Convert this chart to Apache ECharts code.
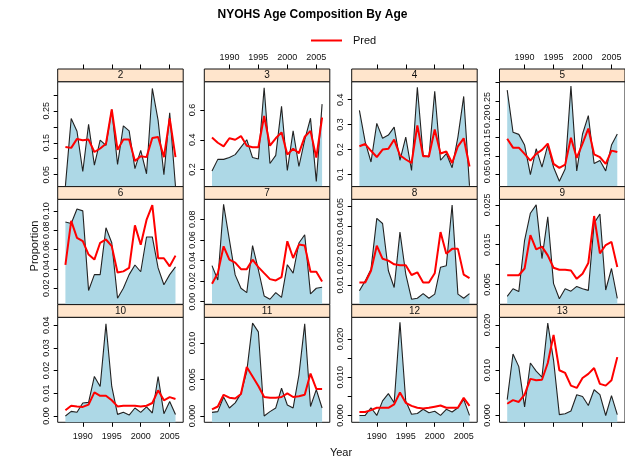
<!DOCTYPE html>
<html>
<head>
<meta charset="utf-8">
<script src="https://cdn.jsdelivr.net/npm/echarts@6/dist/echarts.min.js"></script>
<style>html,body{margin:0;padding:0;background:#fff}#c{width:625px;height:463px}</style>
</head>
<body>
<div id="c"></div>
<script>
// ---- data ----
const years = [1987,1988,1989,1990,1991,1992,1993,1994,1995,1996,1997,1998,1999,2000,2001,2002,2003,2004,2005,2006];
const ages = ['2','3','4','5','6','7','8','9','10','11','12','13'];

const obs2  = [0.015,0.226,0.186,0.06,0.208,0.08,0.158,0.142,0.254,0.082,0.203,0.187,0.069,0.126,0.053,0.32,0.22,0.05,0.244,0.013];
const pred2 = [0.137,0.134,0.162,0.158,0.16,0.121,0.132,0.147,0.254,0.128,0.16,0.16,0.093,0.108,0.105,0.165,0.168,0.105,0.226,0.105];
const obs3  = [0.19,0.268,0.268,0.28,0.30,0.35,0.40,0.28,0.27,0.75,0.24,0.295,0.625,0.193,0.46,0.22,0.40,0.545,0.12,0.64];
const pred3 = [0.415,0.38,0.355,0.41,0.40,0.425,0.36,0.35,0.35,0.56,0.36,0.41,0.45,0.30,0.34,0.31,0.42,0.46,0.28,0.55];
const obs4  = [0.357,0.231,0.15,0.305,0.245,0.258,0.29,0.157,0.25,0.116,0.45,0.177,0.17,0.434,0.157,0.184,0.127,0.25,0.413,0.055];
const pred4 = [0.213,0.222,0.195,0.17,0.20,0.203,0.24,0.177,0.16,0.146,0.297,0.173,0.173,0.28,0.184,0.192,0.146,0.213,0.245,0.132];
const obs5  = [0.279,0.165,0.159,0.13,0.05,0.12,0.07,0.13,0.07,0.032,0.065,0.29,0.06,0.16,0.21,0.08,0.088,0.06,0.13,0.16];
const pred5 = [0.147,0.123,0.123,0.106,0.088,0.106,0.117,0.134,0.079,0.068,0.077,0.15,0.095,0.134,0.175,0.105,0.097,0.079,0.115,0.111];
const obs6  = [0.0885,0.087,0.102,0.10,0.0176,0.034,0.034,0.0826,0.067,0.0096,0.02,0.034,0.044,0.037,0.073,0.073,0.041,0.0235,0.034,0.042];
const pred6 = [0.044,0.0896,0.072,0.0687,0.0548,0.0496,0.067,0.0704,0.0635,0.0363,0.0374,0.041,0.085,0.065,0.0906,0.106,0.051,0.051,0.0426,0.0537];
const obs7  = [0.035,0.021,0.0946,0.06,0.026,0.013,0.0088,0.0545,0.031,0.0055,0.0023,0.0088,0.0042,0.0359,0.0277,0.057,0.065,0.0075,0.013,0.014];
const pred7 = [0.0173,0.0277,0.0538,0.0408,0.038,0.0316,0.0316,0.0408,0.0336,0.0277,0.0219,0.0206,0.0238,0.0587,0.0424,0.0555,0.0545,0.029,0.029,0.0196];
const obs8  = [0.0069,0.012,0.018,0.044,0.0414,0.0172,0.0086,0.037,0.0155,0.0026,0.0031,0.0055,0.0031,0.0052,0.019,0.0198,0.0509,0.0052,0.0031,0.0055];
const pred8 = [0.0112,0.0112,0.0172,0.030,0.0233,0.0224,0.0205,0.020,0.020,0.015,0.0164,0.0112,0.0112,0.0159,0.037,0.0259,0.0284,0.0284,0.0152,0.0134];
const obs9  = [0.002,0.0039,0.0032,0.0161,0.0229,0.025,0.0115,0.022,0.0052,0.0014,0.0039,0.0033,0.0045,0.0039,0.0035,0.0204,0.0227,0.0036,0.009,0.0015];
const pred9 = [0.0073,0.0073,0.0073,0.009,0.0174,0.0138,0.0145,0.0123,0.0092,0.0087,0.0087,0.0085,0.0064,0.0077,0.0104,0.0222,0.0128,0.0149,0.0157,0.0094];
const obs10  = [0.0,0.002,0.0016,0.0057,0.006,0.0174,0.013,0.0406,0.013,0.0007,0.0016,0.0004,0.0035,0.0016,0.004,0.0013,0.0174,0.001,0.0064,0.0006];
const pred10 = [0.0025,0.0045,0.0042,0.004,0.005,0.0104,0.0089,0.0089,0.0069,0.0042,0.0045,0.0045,0.0045,0.0042,0.0045,0.0057,0.0113,0.0069,0.0083,0.0075];
const obs11  = [0.0005,0.0006,0.0026,0.0011,0.0018,0.0031,0.0061,0.0127,0.0115,0.0,0.0006,0.0011,0.0038,0.0015,0.0011,0.0056,0.0126,0.0013,0.0036,0.0011];
const pred11 = [0.0009,0.0013,0.0029,0.0025,0.0024,0.003,0.0067,0.0054,0.0041,0.0026,0.0025,0.0025,0.0026,0.0031,0.0026,0.0027,0.0029,0.0058,0.0037,0.0037];
const obs12  = [0.0,0.0,0.002,0.0,0.0038,0.0057,0.0033,0.0244,0.0038,0.0003,0.0005,0.0016,0.0007,0.0011,0.0,0.0016,0.0009,0.002,0.0042,0.0];
const pred12 = [0.0009,0.0009,0.0014,0.002,0.002,0.002,0.0029,0.006,0.0033,0.0025,0.002,0.0018,0.002,0.0023,0.0026,0.002,0.002,0.002,0.0046,0.0025];
const obs13  = [0.0035,0.0136,0.0108,0.0019,0.0116,0.0098,0.0085,0.0204,0.0122,0.0002,0.0004,0.001,0.0046,0.0042,0.0022,0.0057,0.0046,0.0,0.0044,0.0002];
const pred13 = [0.0026,0.0034,0.003,0.0046,0.0081,0.0078,0.0079,0.0116,0.0178,0.01,0.0094,0.0066,0.0061,0.0083,0.0092,0.0105,0.007,0.0066,0.0078,0.0129];

// y-axis ranges per panel
const yRange2 = [0.0125, 0.341], yRange3 = [0.084, 0.791], yRange4 = [0.051, 0.472], yRange5 = [0.017, 0.302];
const yRange6 = [0.0033, 0.112], yRange7 = [-0.0026, 0.0995], yRange8 = [0.0, 0.0538], yRange9 = [0.0, 0.0264];
const yRange10 = [-0.0028, 0.0435], yRange11 = [-0.00086, 0.0135], yRange12 = [-0.0018, 0.0257], yRange13 = [-0.0015, 0.0217];

// y tick marks and labels per panel
const yTicks2 = [0.05,0.10,0.15,0.20,0.25,0.30], yLabels2 = ['0.05','0.15','0.25'];
const yTicks3 = [0.2,0.4,0.6], yLabels3 = ['0.2','0.4','0.6'];
const yTicks4 = [0.1,0.2,0.3,0.4], yLabels4 = ['0.1','0.2','0.3','0.4'];
const yTicks5 = [0.05,0.10,0.15,0.20,0.25,0.30], yLabels5 = ['0.05','0.10','0.15','0.20','0.25'];
const yTicks6 = [0.02,0.04,0.06,0.08,0.10], yLabels6 = ['0.02','0.04','0.06','0.08','0.10'];
const yTicks7 = [0,0.02,0.04,0.06,0.08], yLabels7 = ['0.00','0.02','0.04','0.06','0.08'];
const yTicks8 = [0.01,0.02,0.03,0.04,0.05], yLabels8 = ['0.01','0.02','0.03','0.04','0.05'];
const yTicks9 = [0.005,0.010,0.015,0.020,0.025], yLabels9 = ['0.005','0.015','0.025'];
const yTicks10 = [0,0.01,0.02,0.03,0.04], yLabels10 = ['0.00','0.01','0.02','0.03','0.04'];
const yTicks11 = [0,0.005,0.010], yLabels11 = ['0.000','0.005','0.010'];
const yTicks12 = [0,0.005,0.010,0.015,0.020], yLabels12 = ['0.000','0.010','0.020'];
const yTicks13 = [0,0.005,0.010,0.015,0.020], yLabels13 = ['0.000','0.010','0.020'];

const xTicks = [1990, 1995, 2000, 2005];
const xLabels = ['1990','1995','2000','2005'];
const xRange = [1985.67, 2007.33];

// ---- assemble ----
const obsList = [obs2,obs3,obs4,obs5,obs6,obs7,obs8,obs9,obs10,obs11,obs12,obs13];
const predList = [pred2,pred3,pred4,pred5,pred6,pred7,pred8,pred9,pred10,pred11,pred12,pred13];
const yRanges = [yRange2,yRange3,yRange4,yRange5,yRange6,yRange7,yRange8,yRange9,yRange10,yRange11,yRange12,yRange13];
const yTicksList = [yTicks2,yTicks3,yTicks4,yTicks5,yTicks6,yTicks7,yTicks8,yTicks9,yTicks10,yTicks11,yTicks12,yTicks13];
const yLabelsList = [yLabels2,yLabels3,yLabels4,yLabels5,yLabels6,yLabels7,yLabels8,yLabels9,yLabels10,yLabels11,yLabels12,yLabels13];

const FONT = 'Liberation Sans, Arial, Helvetica, sans-serif';
const colLeft = [57.7, 204.3, 351.7, 499.5];
const panelW = 125.5;
const rowTop = [81.7, 199.3, 317.3];
const panelH = 105;
const stripH = 12.7;

const grids = [], xAxes = [], yAxes = [], series = [], graphics = [];
ages.forEach((age, i) => {
  const r = Math.floor(i / 4), c = i % 4;
  grids.push({left: colLeft[c], top: rowTop[r], width: panelW, height: panelH,
    show: true, borderColor: '#111', borderWidth: 1, backgroundColor: 'transparent'});
  // bottom x axis
  xAxes.push({type: 'value', gridIndex: i, min: xRange[0], max: xRange[1], position: 'bottom',
    axisLine: {show: false, onZero: false}, splitLine: {show: false},
    axisTick: {show: r === 2, length: 4.5, inside: false, lineStyle: {color: '#000'}, customValues: xTicks},
    axisLabel: {show: r === 2 && (c === 0 || c === 2), customValues: xTicks, margin: 10, fontSize: 9, color: '#111', fontFamily: FONT,
      formatter: v => xLabels[xTicks.indexOf(v)]}
  });
  // top x axis (above strip)
  xAxes.push({type: 'value', gridIndex: i, min: xRange[0], max: xRange[1], position: 'top', offset: stripH,
    axisLine: {show: false, onZero: false}, splitLine: {show: false},
    axisTick: {show: r === 0, length: 4.5, lineStyle: {color: '#000'}, customValues: xTicks},
    axisLabel: {show: r === 0 && (c === 1 || c === 3), customValues: xTicks, margin: 7, fontSize: 9, color: '#111', fontFamily: FONT,
      formatter: v => xLabels[xTicks.indexOf(v)]}
  });
  const labs = yLabelsList[i];
  yAxes.push({type: 'value', gridIndex: i, min: yRanges[i][0], max: yRanges[i][1],
    axisLine: {show: false}, splitLine: {show: false},
    axisTick: {show: true, length: 4, lineStyle: {color: '#000'}, customValues: yTicksList[i]},
    axisLabel: {show: true, rotate: 90, customValues: labs.map(Number), margin: 7, fontSize: 9, color: '#111', fontFamily: FONT,
      formatter: v => { const s = labs.find(t => Math.abs(Number(t) - v) < 1e-9); return s === undefined ? '' : s; }}
  });
  series.push({type: 'line', name: 'Obs', xAxisIndex: 2 * i, yAxisIndex: i,
    data: years.map((y, k) => [y, obsList[i][k]]), showSymbol: false, silent: true,
    lineStyle: {color: '#222', width: 1.1}, areaStyle: {color: '#ADD8E6', opacity: 1, origin: 'start'},
    z: 2});
  series.push({type: 'line', name: 'Pred', xAxisIndex: 2 * i, yAxisIndex: i,
    data: years.map((y, k) => [y, predList[i][k]]), showSymbol: false, silent: true,
    lineStyle: {color: '#FF0000', width: 2}, itemStyle: {color: '#FF0000'}, z: 3});
  graphics.push({type: 'rect', shape: {x: colLeft[c], y: rowTop[r] - stripH, width: panelW, height: stripH},
    style: {fill: '#FFE5CC', stroke: '#111', lineWidth: 1}, z: 10});
  graphics.push({type: 'text', x: colLeft[c] + panelW / 2, y: rowTop[r] - stripH / 2,
    style: {text: age, fill: '#111', font: '10px ' + FONT, textAlign: 'center', textVerticalAlign: 'middle'}, z: 11});
});

graphics.push({type: 'text', x: 341, y: 453, style: {text: 'Year', fill: '#111', font: '11px ' + FONT, textAlign: 'center', textVerticalAlign: 'middle'}});
graphics.push({type: 'text', x: 35, y: 246, rotation: Math.PI / 2,
  style: {text: 'Proportion', fill: '#111', font: '11px ' + FONT, textAlign: 'center', textVerticalAlign: 'middle'}});

const chart = echarts.init(document.getElementById('c'), null, {renderer: 'canvas'});
chart.setOption({
  animation: false,
  backgroundColor: '#fff',
  title: {text: 'NYOHS Age Composition By Age', left: 'center', top: 4,
    textStyle: {fontSize: 12, fontWeight: 'bold', color: '#000', fontFamily: FONT}},
  legend: {data: ['Pred'], top: 30, left: 306, icon: 'rect', itemWidth: 31, itemHeight: 2,
    textStyle: {fontSize: 11, color: '#111', fontFamily: FONT, padding: [0, 0, 0, 6]}, selectedMode: false},
  grid: grids, xAxis: xAxes, yAxis: yAxes, series: series, graphic: graphics
});
</script>
</body>
</html>
